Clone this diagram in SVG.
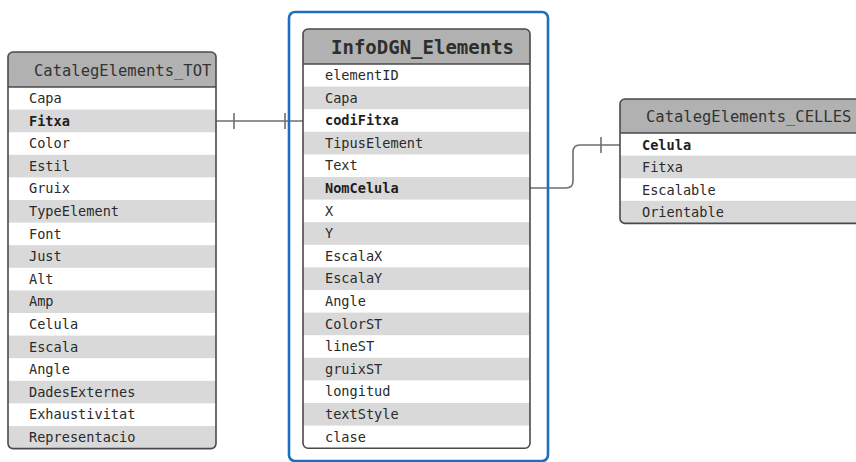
<svg xmlns="http://www.w3.org/2000/svg" width="856" height="462" viewBox="0 0 856 462">
  <style>
    .row-alt { fill: #d9d9d9; }
    .hdr { fill: #b1b1b1; }
    .frame { fill: none; stroke: #4a4a4a; stroke-width: 1.6; }
    .sep { stroke: #4a4a4a; stroke-width: 1.4; }
    .title { font-family: "DejaVu Sans Mono", "Liberation Mono", monospace; font-size: 15.5px; fill: #333; }
    .title-b { font-family: "DejaVu Sans Mono", "Liberation Mono", monospace; font-size: 19px; font-weight: bold; fill: #2e2e2e; }
    .fld { font-family: "DejaVu Sans Mono", "Liberation Mono", monospace; font-size: 13.6px; fill: #2a2a2a; }
    .key { font-weight: bold; fill: #1e1e1e; }
    .link { fill: none; stroke: #6e6e6e; stroke-width: 1.6; }
    .tick { stroke: #6e6e6e; stroke-width: 1.6; }
  </style>
  <defs>
    <clipPath id="clip-tot"><rect x="8" y="52" width="208" height="396.6" rx="5"/></clipPath>
    <clipPath id="clip-info"><rect x="303" y="29" width="227" height="419.2" rx="5"/></clipPath>
    <clipPath id="clip-celles"><rect x="620" y="99" width="250" height="124.4" rx="5"/></clipPath>
  </defs>
  <rect width="856" height="462" fill="#ffffff"/>

  <!-- relationship lines -->
  <g id="connectors">
    <line class="link" x1="216" y1="121" x2="303" y2="121"/>
    <line class="tick" x1="234" y1="113" x2="234" y2="129"/>
    <line class="tick" x1="285" y1="113" x2="285" y2="129"/>
    <path class="link" d="M530,188 H566 Q573,188 573,181 V152 Q573,145 580,145 H620"/>
    <line class="tick" x1="601" y1="137" x2="601" y2="153"/>
  </g>

  <!-- highlight frame around the central table -->
  <g id="focus-frame">
    <rect x="289" y="12" width="259" height="449" rx="6" fill="none" stroke="#1f6fc0" stroke-width="2.6"/>
  </g>

  <!-- CatalegElements_TOT -->
  <g id="tbl-tot">
    <g clip-path="url(#clip-tot)">
      <rect x="8" y="52" width="208" height="397" fill="#fff"/>
      <rect class="hdr" x="8" y="52" width="208" height="35"/>
      <rect class="row-alt" x="8" y="109.6" width="208" height="22.6"/>
      <rect class="row-alt" x="8" y="154.8" width="208" height="22.6"/>
      <rect class="row-alt" x="8" y="200.0" width="208" height="22.6"/>
      <rect class="row-alt" x="8" y="245.2" width="208" height="22.6"/>
      <rect class="row-alt" x="8" y="290.4" width="208" height="22.6"/>
      <rect class="row-alt" x="8" y="335.6" width="208" height="22.6"/>
      <rect class="row-alt" x="8" y="380.8" width="208" height="22.6"/>
      <rect class="row-alt" x="8" y="426.0" width="208" height="22.6"/>
    </g>
    <line class="sep" x1="8" y1="87" x2="216" y2="87"/>
    <rect class="frame" x="8" y="52" width="208" height="396.6" rx="5"/>
    <text class="title" x="34" y="76">CatalegElements_TOT</text>
    <text class="fld" x="29" y="103">Capa</text>
    <text class="fld key" x="29" y="125.6">Fitxa</text>
    <text class="fld" x="29" y="148.2">Color</text>
    <text class="fld" x="29" y="170.8">Estil</text>
    <text class="fld" x="29" y="193.4">Gruix</text>
    <text class="fld" x="29" y="216">TypeElement</text>
    <text class="fld" x="29" y="238.6">Font</text>
    <text class="fld" x="29" y="261.2">Just</text>
    <text class="fld" x="29" y="283.8">Alt</text>
    <text class="fld" x="29" y="306.4">Amp</text>
    <text class="fld" x="29" y="329">Celula</text>
    <text class="fld" x="29" y="351.6">Escala</text>
    <text class="fld" x="29" y="374.2">Angle</text>
    <text class="fld" x="29" y="396.8">DadesExternes</text>
    <text class="fld" x="29" y="419.4">Exhaustivitat</text>
    <text class="fld" x="29" y="442">Representacio</text>
  </g>

  <!-- InfoDGN_Elements -->
  <g id="tbl-info">
    <g clip-path="url(#clip-info)">
      <rect x="303" y="29" width="227" height="420" fill="#fff"/>
      <rect class="hdr" x="303" y="29" width="227" height="35"/>
      <rect class="row-alt" x="303" y="86.6" width="227" height="22.6"/>
      <rect class="row-alt" x="303" y="131.8" width="227" height="22.6"/>
      <rect class="row-alt" x="303" y="177.0" width="227" height="22.6"/>
      <rect class="row-alt" x="303" y="222.2" width="227" height="22.6"/>
      <rect class="row-alt" x="303" y="267.4" width="227" height="22.6"/>
      <rect class="row-alt" x="303" y="312.6" width="227" height="22.6"/>
      <rect class="row-alt" x="303" y="357.8" width="227" height="22.6"/>
      <rect class="row-alt" x="303" y="403.0" width="227" height="22.6"/>
    </g>
    <line class="sep" x1="303" y1="64" x2="530" y2="64"/>
    <rect class="frame" x="303" y="29" width="227" height="419.2" rx="5"/>
    <text class="title-b" x="331" y="53.5">InfoDGN_Elements</text>
    <text class="fld" x="325" y="80">elementID</text>
    <text class="fld" x="325" y="102.6">Capa</text>
    <text class="fld key" x="325" y="125.2">codiFitxa</text>
    <text class="fld" x="325" y="147.8">TipusElement</text>
    <text class="fld" x="325" y="170.4">Text</text>
    <text class="fld key" x="325" y="193">NomCelula</text>
    <text class="fld" x="325" y="215.6">X</text>
    <text class="fld" x="325" y="238.2">Y</text>
    <text class="fld" x="325" y="260.8">EscalaX</text>
    <text class="fld" x="325" y="283.4">EscalaY</text>
    <text class="fld" x="325" y="306">Angle</text>
    <text class="fld" x="325" y="328.6">ColorST</text>
    <text class="fld" x="325" y="351.2">lineST</text>
    <text class="fld" x="325" y="373.8">gruixST</text>
    <text class="fld" x="325" y="396.4">longitud</text>
    <text class="fld" x="325" y="419">textStyle</text>
    <text class="fld" x="325" y="441.6">clase</text>
  </g>

  <!-- CatalegElements_CELLES -->
  <g id="tbl-celles">
    <g clip-path="url(#clip-celles)">
      <rect x="620" y="99" width="250" height="125" fill="#fff"/>
      <rect class="hdr" x="620" y="99" width="250" height="34"/>
      <rect class="row-alt" x="620" y="155.6" width="250" height="22.6"/>
      <rect class="row-alt" x="620" y="200.8" width="250" height="22.6"/>
    </g>
    <line class="sep" x1="620" y1="133" x2="870" y2="133"/>
    <rect class="frame" x="620" y="99" width="250" height="124.4" rx="5"/>
    <text class="title" x="646" y="122">CatalegElements_CELLES</text>
    <text class="fld key" x="642" y="149.5">Celula</text>
    <text class="fld" x="642" y="172.1">Fitxa</text>
    <text class="fld" x="642" y="194.7">Escalable</text>
    <text class="fld" x="642" y="217.3">Orientable</text>
  </g>
</svg>
